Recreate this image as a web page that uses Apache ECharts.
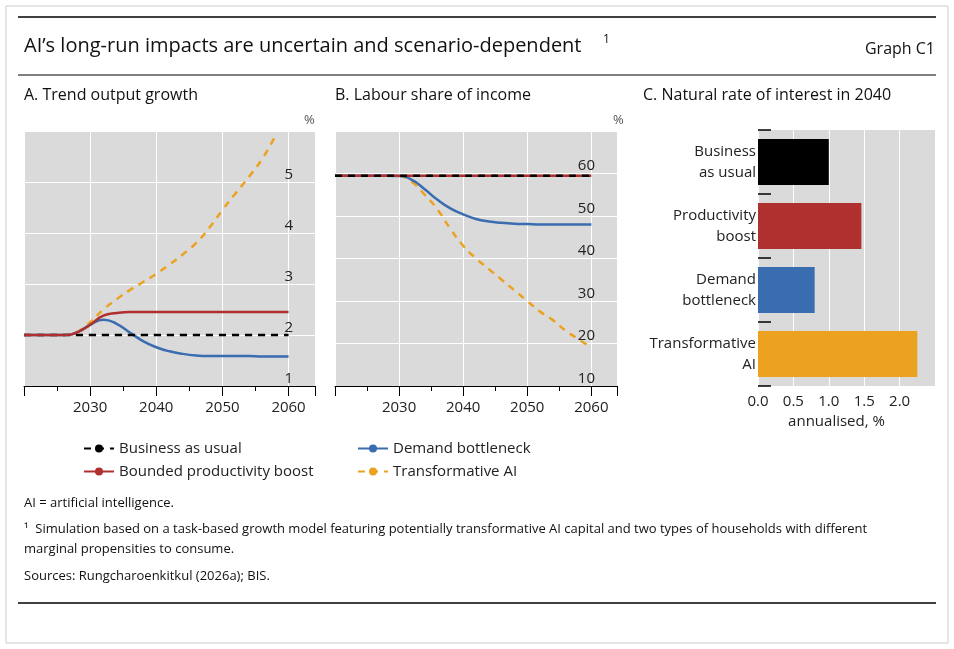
<!DOCTYPE html>
<html><head><meta charset="utf-8">
<script src="https://cdn.jsdelivr.net/npm/echarts@6/dist/echarts.min.js"></script>
<style>html,body{margin:0;background:#fff}#c{width:954px;height:649px}</style>
</head><body><div id="c"></div>
<script>
// years, 2-year steps
const years = [2020,2022,2024,2026,2028,2030,2032,2034,2036,2038,2040,2042,2044,2046,2048,2050,2052,2054,2056,2058,2060];
// A. trend output growth, %
const growthBAU   = [2,2,2,2,2,2,2,2,2,2,2,2,2,2,2,2,2,2,2,2,2];
const growthBoost = [2,2,2,2,2.05,2.2,2.38,2.43,2.45,2.45,2.45,2.45,2.45,2.45,2.45,2.45,2.45,2.45,2.45,2.45,2.45];
const growthDem   = [2,2,2,2,2.05,2.2,2.3,2.22,2.05,1.88,1.76,1.68,1.63,1.6,1.59,1.59,1.59,1.59,1.58,1.58,1.58];
const growthTAI   = [null,null,null,null,2.05,2.25,2.5,2.7,2.88,3.04,3.2,3.38,3.58,3.8,4.1,4.45,4.78,5.1,5.45,5.9,null];
// B. labour share of income, %
const laborBAU   = [59.5,59.5,59.5,59.5,59.5,59.5,59.5,59.5,59.5,59.5,59.5,59.5,59.5,59.5,59.5,59.5,59.5,59.5,59.5,59.5,59.5];
const laborDem   = [59.5,59.5,59.5,59.5,59.5,59.4,58.5,56.3,53.8,51.8,50.4,49.3,48.7,48.4,48.2,48.1,48,48,48,48,48];
const laborTAI   = [59.5,59.5,59.5,59.5,59.5,59.4,58,55,51.5,47,43,40,37.5,35,32.5,30,27.5,25.5,23,21,19];
// C. natural rate of interest in 2040
const scenarios = ['Business\nas usual','Productivity\nboost','Demand\nbottleneck','Transformative\nAI'];
const rates = [1.0, 1.46, 0.8, 2.25];

const BLACK='#000', RED='#b03030', BLUE='#3a6cb0', ORANGE='#eba221';
const F='Open Sans';
const pairs = a => years.map((y,i)=>[y,a[i]]);

function xAx(idx){
  return {type:'value',gridIndex:idx,min:2020,max:2064,interval:10,
    axisLine:{show:true,lineStyle:{color:'#000'}},
    axisTick:{show:true,length:10,lineStyle:{color:'#000'}},
    minorTick:{show:true,splitNumber:2,length:5,lineStyle:{color:'#000'}},
    splitLine:{show:true,lineStyle:{color:'#fff',width:1}},
    axisLabel:{color:'#222',fontFamily:F,fontSize:15,margin:14,
      formatter:v=>(v>=2030&&v<=2060)?String(v):''}};
}
function yAx(idx,min,max,intv){
  return {type:'value',gridIndex:idx,position:'right',min:min,max:max,interval:intv,
    axisLine:{show:false},axisTick:{show:false},
    splitLine:{lineStyle:{color:'#fff',width:1}},
    axisLabel:{color:'#222',fontFamily:F,fontSize:15,verticalAlign:'bottom',margin:-22,align:'right',
      formatter:v=>v===max?'':String(v)}};
}
function line(name,data,xi,color,dash,z){
  return {name:name,type:'line',xAxisIndex:xi,yAxisIndex:xi,data:pairs(data),smooth:true,
    showSymbol:false,symbol:'none',z:z||2,
    lineStyle:{color:color,width:2.5,type:dash?[7,6]:'solid'},itemStyle:{color:color}};
}

const chart = echarts.init(document.getElementById('c'));
chart.setOption({
  backgroundColor:'#fff',
  animation:false,
  textStyle:{fontFamily:F},
  grid:[
    {left:24,top:131,width:291,height:255,backgroundColor:'#dadada',show:true,borderWidth:0},
    {left:335,top:131,width:282,height:255,backgroundColor:'#dadada',show:true,borderWidth:0},
    {left:758,top:130,width:177,height:256,backgroundColor:'#dadada',show:true,borderWidth:0}
  ],
  xAxis:[xAx(0),xAx(1),
    {type:'value',gridIndex:2,min:0,max:2.5,interval:0.5,
     axisLine:{show:false},axisTick:{show:false},
     splitLine:{lineStyle:{color:'#fff'}},
     axisLabel:{color:'#222',fontFamily:F,fontSize:15,margin:8,formatter:v=>v>2.2?'':v.toFixed(1)},
     name:'annualised, %',nameLocation:'middle',nameGap:28,
     nameTextStyle:{color:'#222',fontFamily:F,fontSize:15,padding:[0,20,0,0]}}],
  yAxis:[yAx(0,1,6,1),yAx(1,10,70,10),
    {type:'category',gridIndex:2,data:scenarios,inverse:true,
     axisLine:{show:false},
     axisTick:{show:true,inside:true,length:13,lineStyle:{color:'#000',width:1.5}},
     splitLine:{show:false},
     axisLabel:{color:'#222',fontFamily:F,fontSize:15,lineHeight:21,margin:2}}],
  legend:[
    {left:78,top:436,orient:'vertical',itemGap:8,itemWidth:30,itemHeight:10,
     textStyle:{fontFamily:F,fontSize:15,color:'#222'},
     data:['Business as usual','Bounded productivity boost']},
    {left:352,top:436,orient:'vertical',itemGap:8,itemWidth:30,itemHeight:10,
     textStyle:{fontFamily:F,fontSize:15,color:'#222'},
     data:['Demand bottleneck','Transformative AI']}
  ],
  series:[
    line('Transformative AI',growthTAI,0,ORANGE,true,2),
    line('Demand bottleneck',growthDem,0,BLUE,false,3),
    line('Business as usual',growthBAU,0,BLACK,true,4),
    line('Bounded productivity boost',growthBoost,0,RED,false,5),
    line('Transformative AI',laborTAI,1,ORANGE,true,2),
    line('Demand bottleneck',laborDem,1,BLUE,false,3),
    line('Bounded productivity boost',laborBAU,1,RED,false,4),
    line('Business as usual',laborBAU,1,BLACK,true,5),
    {type:'bar',xAxisIndex:2,yAxisIndex:2,barWidth:46,
     data:rates.map((v,i)=>({value:v,itemStyle:{color:[BLACK,RED,BLUE,ORANGE][i]}}))}
  ],
  graphic:[
    {type:'line',shape:{x1:18,y1:17,x2:936,y2:17},style:{stroke:'#000',lineWidth:1.5}},
    {type:'line',shape:{x1:18,y1:75,x2:936,y2:75},style:{stroke:'#000',lineWidth:1}},
    {type:'line',shape:{x1:18,y1:603,x2:936,y2:603},style:{stroke:'#000',lineWidth:1.5}},
    {type:'rect',shape:{x:6,y:6,width:942,height:637},style:{fill:'none',stroke:'#ccc',lineWidth:1}},
    {type:'text',left:24,top:36,style:{text:'AI’s long-run impacts are uncertain and scenario-dependent',font:'20px "Open Sans"',fill:'#111'}},
    {type:'text',left:603,top:34,style:{text:'1',font:'12px "Open Sans"',fill:'#111'}},
    {type:'text',right:19,top:41,style:{text:'Graph C1',font:'16px "Open Sans"',fill:'#111'}},
    {type:'text',left:24,top:87,style:{text:'A. Trend output growth',font:'16px "Open Sans"',fill:'#111'}},
    {type:'text',left:335,top:87,style:{text:'B. Labour share of income',font:'16px "Open Sans"',fill:'#111'}},
    {type:'text',left:643,top:87,style:{text:'C. Natural rate of interest in 2040',font:'16px "Open Sans"',fill:'#111'}},
    {type:'text',left:304,top:114,style:{text:'%',font:'13px "Open Sans"',fill:'#555'}},
    {type:'text',left:613,top:114,style:{text:'%',font:'13px "Open Sans"',fill:'#555'}},
    {type:'text',left:24,top:497,style:{text:'AI = artificial intelligence.',font:'13px "Open Sans"',fill:'#111'}},
    {type:'text',left:24,top:519,style:{text:'¹  Simulation based on a task-based growth model featuring potentially transformative AI capital and two types of households with different\nmarginal propensities to consume.',font:'13px "Open Sans"',fill:'#111',lineHeight:20}},
    {type:'text',left:24,top:570,style:{text:'Sources: Rungcharoenkitkul (2026a); BIS.',font:'13px "Open Sans"',fill:'#111'}}
  ]
});
</script></body></html>
